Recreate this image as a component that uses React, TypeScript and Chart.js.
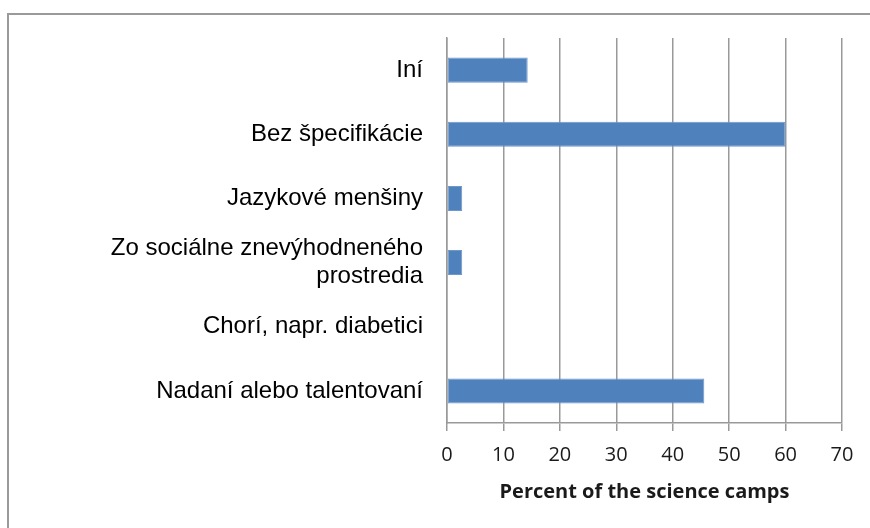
import React, { useEffect, useRef } from "react";
import { Chart, registerables } from "chart.js";

Chart.register(...registerables);

const categories: (string | string[])[] = [
  "Iní",
  "Bez špecifikácie",
  "Jazykové menšiny",
  ["Zo sociálne znevýhodneného", "prostredia"],
  "Chorí, napr. diabetici",
  "Nadaní alebo talentovaní",
];
const values: number[] = [14.3, 60, 2.7, 2.7, 0, 45.6];
const xMin = 0;
const xMax = 70;
const xStep = 10;
const xTitle = "Percent of the science camps";

export default function App() {
  const ref = useRef<HTMLCanvasElement | null>(null);

  useEffect(() => {
    if (!ref.current) return;
    const chart = new Chart(ref.current, {
      type: "bar",
      data: {
        labels: categories,
        datasets: [
          {
            data: values,
            backgroundColor: "#4F81BD",
            borderColor: "#6F97CB",
            borderWidth: 1,
            borderSkipped: false,
            categoryPercentage: 1,
            barPercentage: 0.39,
          },
        ],
      },
      options: {
        indexAxis: "y",
        responsive: false,
        animation: false,
        events: [],
        layout: { padding: { top: 37, right: 28, left: 0, bottom: 0 } },
        plugins: {
          legend: { display: false },
          tooltip: { enabled: false },
        },
        scales: {
          x: {
            min: xMin,
            max: xMax,
            ticks: {
              stepSize: xStep,
              padding: 12,
              color: "#1a1a1a",
              font: { family: "'Open Sans'", size: 20 },
              maxRotation: 0,
            },
            grid: {
              color: "#999999",
              lineWidth: 1.5,
              drawTicks: true,
              tickLength: 8,
              tickColor: "#999999",
            },
            border: { display: true, color: "#999999", width: 1.5 },
            title: {
              display: true,
              text: xTitle,
              color: "#1a1a1a",
              font: { family: "'Open Sans'", size: 20, weight: "bold" },
              padding: { top: 0, bottom: 24 },
            },
            afterFit: (scale: any) => {
              scale.height = 105;
            },
          },
          y: {
            ticks: {
              padding: 24,
              color: "#000",
              font: { family: "'Liberation Sans', Arial", size: 24, lineHeight: 1.17 },
            },
            grid: { display: false, drawTicks: false },
            border: { display: true, color: "#999999", width: 1.5 },
            afterFit: (scale: any) => {
              scale.width = 447;
            },
          },
        },
      },
    } as any);
    return () => chart.destroy();
  }, []);

  return (
    <div style={{ position: "fixed", left: 0, top: 0, width: 870, height: 528, background: "#fff" }}>
      <div
        style={{
          position: "absolute",
          left: 7,
          top: 13,
          right: 0,
          bottom: 0,
          borderLeft: "2px solid #9a9a9a",
          borderTop: "2px solid #9a9a9a",
        }}
      />
      <canvas ref={ref} width={870} height={528} style={{ position: "absolute", left: 0, top: 0 }} />
    </div>
  );
}
